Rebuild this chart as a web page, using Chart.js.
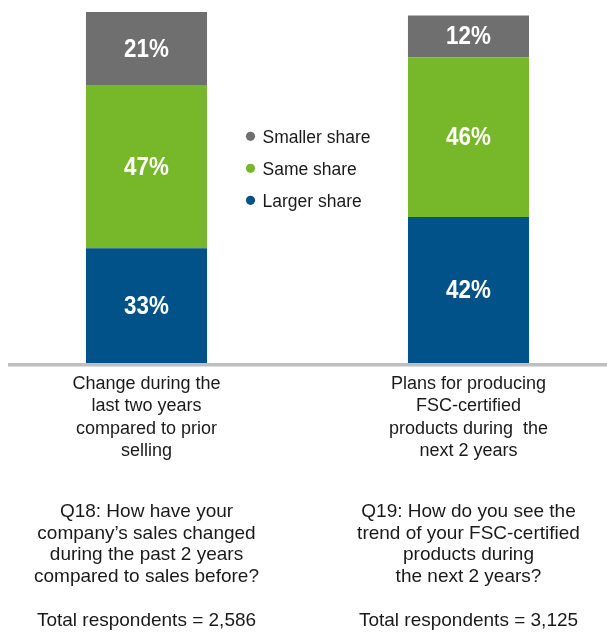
<!DOCTYPE html>
<html><head><meta charset="utf-8">
<script src="https://cdn.jsdelivr.net/npm/chart.js@4/dist/chart.umd.min.js"></script>
<style>html,body{margin:0;padding:0;background:#fff;}#wrap{width:607px;height:634px;}</style>
</head><body><div id="wrap"><canvas id="c" width="607" height="634"></canvas></div>
<script>
const categories = [
  ["Change during the","last two years","compared to prior","selling"],
  ["Plans for producing","FSC-certified","products during  the","next 2 years"]
];
const seriesNames = ["Larger share","Same share","Smaller share"];
const largerShare = [33, 42];
const sameShare = [47, 46];
const smallerShare = [21, 12];
const questions = [
  ["Q18: How have your","company\u2019s sales changed","during the past 2 years","compared to sales before?"],
  ["Q19: How do you see the","trend of your FSC-certified","products during","the next 2 years?"]
];
const respondents = ["Total respondents = 2,586","Total respondents = 3,125"];
const colors = ["#02528a","#77b82a","#6f6f6f"];

const FONT = "'Liberation Sans', Arial, Helvetica, sans-serif";
const TEXT = "#1a1a1a";

const overlay = {
  id: 'overlay',
  beforeDatasetsDraw(chart) {
    const ctx = chart.ctx, ca = chart.chartArea;
    ctx.save();
    ctx.fillStyle = '#bfbfbf';
    ctx.fillRect(8, ca.bottom, chart.width - 8, 3.5);
    ctx.restore();
  },
  afterDatasetsDraw(chart) {
    const ctx = chart.ctx;
    const sx = 0.86;
    chart.data.datasets.forEach((ds, di) => {
      chart.getDatasetMeta(di).data.forEach((el, i) => {
        const p = el.getCenterPoint();
        ctx.save();
        ctx.fillStyle = '#ffffff';
        ctx.font = "bold 26px " + FONT;
        ctx.textAlign = 'center';
        ctx.textBaseline = 'middle';
        ctx.translate(p.x, p.y + 1);
        ctx.scale(sx, 1);
        ctx.fillText(ds.data[i] + '%', 0, 0);
        ctx.restore();
      });
    });
  },
  afterDraw(chart) {
    const ctx = chart.ctx, ca = chart.chartArea, xs = chart.scales.x;
    ctx.save();
    ctx.font = "17.5px " + FONT;
    ctx.textBaseline = 'alphabetic';
    ctx.textAlign = 'left';
    const order = [2, 1, 0];
    const cx = (ca.left + ca.right) / 2;
    order.forEach((di, k) => {
      const base = ca.top + 131.3 + k * 32;
      ctx.fillStyle = chart.data.datasets[di].backgroundColor;
      ctx.beginPath();
      ctx.arc(cx - 57, base - 7, 4.6, 0, Math.PI * 2);
      ctx.fill();
      ctx.fillStyle = TEXT;
      ctx.fillText(chart.data.datasets[di].label, cx - 45, base);
    });
    ctx.font = "19px " + FONT;
    ctx.textAlign = 'center';
    ctx.fillStyle = TEXT;
    questions.forEach((lines, i) => {
      const x = xs.getPixelForValue(i);
      lines.forEach((t, k) => {
        ctx.fillText(t, x, ca.bottom + 154 + k * 21.7);
      });
      ctx.fillText(respondents[i], x, ca.bottom + 154 + 5 * 21.7);
    });
    ctx.restore();
  }
};

new Chart(document.getElementById('c'), {
  type: 'bar',
  data: {
    labels: categories,
    datasets: [
      { label: seriesNames[0], data: largerShare, backgroundColor: colors[0] },
      { label: seriesNames[1], data: sameShare, backgroundColor: colors[1] },
      { label: seriesNames[2], data: smallerShare, backgroundColor: colors[2] }
    ]
  },
  options: {
    responsive: false,
    animation: false,
    devicePixelRatio: 1,
    datasets: { bar: { barPercentage: 1, categoryPercentage: 0.376, clip: false, borderWidth: 0 } },
    layout: { padding: { left: 146.5, right: 138.5, top: 12, bottom: 0 } },
    plugins: { legend: { display: false }, tooltip: { enabled: false } },
    scales: {
      x: {
        stacked: true,
        offset: false,
        border: { display: false },
        grid: { display: false, drawTicks: false },
        ticks: {
          autoSkip: false, maxRotation: 0, minRotation: 0, padding: 9.5,
          color: TEXT,
          font: { family: FONT, size: 18, lineHeight: 22.5 / 18 }
        },
        afterFit(s) { s.height = 634 - 363; s.paddingLeft = 0; s.paddingRight = 0; }
      },
      y: { stacked: true, display: false, min: 0, max: 101 }
    }
  },
  plugins: [overlay]
});
</script>
</body></html>
